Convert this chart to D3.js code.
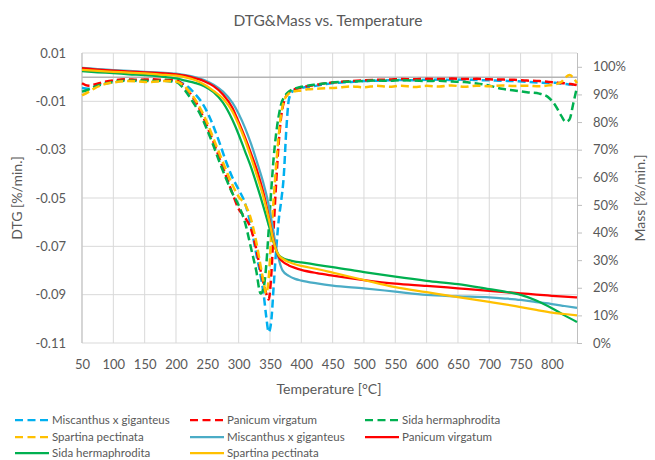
<!DOCTYPE html>
<html lang="en">
<head>
<meta charset="UTF-8">
<title>DTG&amp;Mass vs. Temperature</title>
<style>
  body { margin: 0; background: #fff; }
  text { font-family: Lato, "Open Sans", sans-serif; fill: #595959; }
</style>
</head>
<body>
<svg id="chart" width="655" height="460"></svg>
<script src="https://cdn.jsdelivr.net/npm/d3@7"></script>
<script>

// temperatures (°C) where the DTG curves were read
var dtgTemp = [50, 60, 70, 85, 100, 120, 140, 160, 180, 200,
  210, 220, 230, 240, 250, 260, 270, 280, 290, 300,
  310, 320, 328, 335, 340, 344, 348, 352, 356, 360,
  364, 368, 372, 376, 380, 385, 390, 400, 410, 425,
  440, 460, 480, 500, 520, 540, 560, 580, 600, 620,
  640, 660, 680, 700, 720, 740, 760, 780, 795, 805,
  815, 822, 828, 834, 840];

// DTG [%/min.]
var dtgMiscanthus = [-0.0045, -0.0048, -0.0038, -0.0024, -0.0016, -0.0012, -0.0016, -0.0012, -0.0015, -0.0017,
  -0.0025, -0.0042, -0.0068, -0.0100, -0.0145, -0.0205, -0.0275, -0.0350, -0.0415, -0.0465,
  -0.0520, -0.0620, -0.0730, -0.0820, -0.0900, -0.0990, -0.1055, -0.1010, -0.0860, -0.0710,
  -0.0590, -0.0510, -0.0410, -0.0220, -0.0095, -0.0062, -0.0052, -0.0045, -0.0040, -0.0035,
  -0.0028, -0.0023, -0.0020, -0.0016, -0.0015, -0.0013, -0.0012, -0.0013, -0.0011, -0.0010,
  -0.0012, -0.0010, -0.0012, -0.0013, -0.0015, -0.0016, -0.0019, -0.0022, -0.0024, -0.0023,
  -0.0027, -0.0028, -0.0030, -0.0031, -0.0035];
var dtgPanicum = [-0.0025, -0.0035, -0.0030, -0.0020, -0.0013, -0.0009, -0.0011, -0.0009, -0.0011, -0.0013,
  -0.0028, -0.0058, -0.0095, -0.0145, -0.0205, -0.0270, -0.0340, -0.0410, -0.0480, -0.0545,
  -0.0580, -0.0630, -0.0710, -0.0800, -0.0855, -0.0895, -0.0920, -0.0820, -0.0620, -0.0430,
  -0.0270, -0.0160, -0.0105, -0.0078, -0.0063, -0.0054, -0.0049, -0.0043, -0.0037, -0.0031,
  -0.0025, -0.0020, -0.0016, -0.0013, -0.0011, -0.0010, -0.0008, -0.0009, -0.0007, -0.0008,
  -0.0006, -0.0008, -0.0007, -0.0009, -0.0010, -0.0011, -0.0014, -0.0016, -0.0020, -0.0022,
  -0.0024, -0.0026, -0.0028, -0.0030, -0.0033];
var dtgSida = [-0.0060, -0.0052, -0.0040, -0.0028, -0.0020, -0.0015, -0.0014, -0.0016, -0.0015, -0.0020,
  -0.0040, -0.0075, -0.0115, -0.0160, -0.0220, -0.0285, -0.0355, -0.0420, -0.0480, -0.0530,
  -0.0600, -0.0710, -0.0800, -0.0895, -0.0870, -0.0780, -0.0630, -0.0470, -0.0330, -0.0230,
  -0.0160, -0.0110, -0.0085, -0.0070, -0.0060, -0.0052, -0.0047, -0.0040, -0.0035, -0.0030,
  -0.0025, -0.0020, -0.0018, -0.0016, -0.0014, -0.0015, -0.0013, -0.0014, -0.0016, -0.0015,
  -0.0018, -0.0020, -0.0026, -0.0035, -0.0048, -0.0055, -0.0062, -0.0068, -0.0085, -0.0115,
  -0.0160, -0.0185, -0.0175, -0.0110, -0.0040];
var dtgSpartina = [-0.0075, -0.0062, -0.0046, -0.0030, -0.0022, -0.0016, -0.0018, -0.0020, -0.0016, -0.0018,
  -0.0030, -0.0055, -0.0090, -0.0135, -0.0190, -0.0255, -0.0320, -0.0385, -0.0445, -0.0495,
  -0.0525, -0.0590, -0.0680, -0.0780, -0.0850, -0.0895, -0.0830, -0.0660, -0.0500, -0.0360,
  -0.0240, -0.0150, -0.0100, -0.0080, -0.0068, -0.0061, -0.0058, -0.0055, -0.0050, -0.0048,
  -0.0046, -0.0043, -0.0038, -0.0042, -0.0036, -0.0040, -0.0035, -0.0041, -0.0036, -0.0039,
  -0.0034, -0.0040, -0.0035, -0.0038, -0.0034, -0.0037, -0.0035, -0.0038, -0.0034, -0.0030,
  -0.0020, 0.0000, 0.0009, -0.0002, -0.0025];

// temperatures (°C) where the mass curves were read
var massTemp = [50, 75, 100, 125, 150, 175, 200, 215, 230, 245,
  260, 275, 290, 300, 310, 320, 330, 340, 345, 350,
  355, 360, 365, 370, 380, 390, 400, 425, 450, 500,
  550, 600, 650, 700, 725, 750, 775, 800, 820, 840];

// remaining mass [%]
var massMiscanthus = [99.6, 99.2, 98.8, 98.5, 98.2, 97.9, 97.5, 97.0, 96.3, 95.2,
  93.5, 91.0, 87.0, 83.0, 78.0, 72.0, 65.0, 57.5, 53.0, 47.5,
  41.0, 34.5, 29.5, 26.3, 24.3, 23.2, 22.6, 21.6, 20.8, 19.8,
  18.6, 17.4, 16.9, 16.5, 16.1, 15.6, 14.8, 14.1, 13.4, 12.7];
var massPanicum = [99.5, 99.0, 98.6, 98.3, 98.0, 97.7, 97.3, 96.8, 95.9, 94.8,
  93.0, 90.0, 85.2, 80.0, 74.5, 68.5, 62.0, 54.0, 49.0, 43.5,
  38.0, 33.5, 30.8, 29.5, 28.1, 27.2, 26.5, 25.3, 24.4, 22.8,
  21.5, 20.7, 19.8, 18.9, 18.4, 18.0, 17.5, 17.1, 16.8, 16.5];
var massSida = [98.4, 98.0, 97.7, 97.3, 97.0, 96.5, 95.8, 95.0, 94.2, 93.0,
  90.8, 87.0, 80.8, 75.5, 69.5, 63.5, 56.5, 49.0, 45.0, 41.0,
  37.0, 33.5, 31.6, 30.8, 30.0, 29.5, 29.2, 28.3, 27.5, 25.7,
  24.0, 22.5, 21.3, 19.5, 18.6, 17.4, 15.4, 12.6, 10.0, 7.6];
var massSpartina = [98.9, 98.5, 98.2, 97.9, 97.6, 97.2, 96.8, 96.2, 95.2, 93.6,
  91.3, 88.5, 83.8, 79.0, 73.5, 67.0, 60.0, 52.5, 48.0, 43.0,
  37.5, 33.5, 31.5, 30.5, 29.3, 28.5, 27.9, 26.8, 25.5, 22.8,
  20.2, 18.4, 16.6, 14.9, 14.0, 13.0, 12.0, 11.0, 10.5, 10.0];

var tempTicks = [50, 100, 150, 200, 250, 300, 350, 400, 450, 500, 550, 600, 650, 700, 750, 800];
var dtgTicks = [0.01, -0.01, -0.03, -0.05, -0.07, -0.09, -0.11];
var massTicks = [0, 10, 20, 30, 40, 50, 60, 70, 80, 90, 100];

var svg = d3.select("#chart"),
    plotLeft = 82, plotRight = 577, plotTop = 53, plotBottom = 343;

var x = d3.scaleLinear().domain([50, 840]).range([plotLeft, plotRight]),
    yDtg = d3.scaleLinear().domain([-0.11, 0.01]).range([plotBottom, plotTop]),
    yMass = d3.scaleLinear().domain([0, 105]).range([plotBottom, plotTop]);

// gridlines
svg.append("g").selectAll("line").data(dtgTicks).enter().append("line")
    .attr("x1", plotLeft).attr("x2", plotRight)
    .attr("y1", function (d) { return yDtg(d); }).attr("y2", function (d) { return yDtg(d); })
    .attr("stroke", "#d9d9d9").attr("stroke-width", 1);
svg.append("g").selectAll("line").data(tempTicks).enter().append("line")
    .attr("x1", function (d) { return x(d); }).attr("x2", function (d) { return x(d); })
    .attr("y1", plotTop).attr("y2", plotBottom)
    .attr("stroke", "#d9d9d9").attr("stroke-width", 1);

// axis lines (horizontal axis crosses at DTG = 0)
svg.append("line").attr("x1", plotLeft).attr("x2", plotRight)
    .attr("y1", yDtg(0)).attr("y2", yDtg(0))
    .attr("stroke", "#b4b4b4").attr("stroke-width", 1.5);
svg.append("line").attr("x1", plotLeft).attr("x2", plotLeft)
    .attr("y1", plotTop).attr("y2", plotBottom)
    .attr("stroke", "#bfbfbf").attr("stroke-width", 1);

// left axis labels
svg.append("g").attr("transform", "translate(" + plotLeft + ",0)")
    .call(d3.axisLeft(yDtg).tickValues(dtgTicks).tickSize(0).tickPadding(16)
        .tickFormat(function (d) { return d.toFixed(2); }))
    .call(function (g) { g.select(".domain").remove(); })
    .selectAll("text").style("font-size", "13px").attr("font-family", null);

// right axis
var ra = svg.append("g").attr("transform", "translate(" + plotRight + ",0)")
    .call(d3.axisRight(yMass).tickValues(massTicks).tickSize(5).tickPadding(11)
        .tickFormat(function (d) { return d + "%"; }));
ra.select(".domain").attr("stroke", "#bfbfbf").attr("d", "M0.5," + plotTop + "V" + plotBottom);
ra.selectAll(".tick line").attr("stroke", "#bfbfbf");
ra.selectAll("text").style("font-size", "13px").attr("font-family", null);

// bottom labels
svg.append("g").attr("transform", "translate(0," + plotBottom + ")")
    .call(d3.axisBottom(x).tickValues(tempTicks).tickSize(0).tickPadding(17))
    .call(function (g) { g.select(".domain").remove(); })
    .selectAll("text").style("font-size", "13px").attr("font-family", null);

// titles
svg.append("text").attr("x", 328).attr("y", 26).attr("text-anchor", "middle")
    .style("font-size", "15.5px").text("DTG&Mass vs. Temperature");
svg.append("text").attr("x", 329).attr("y", 394).attr("text-anchor", "middle")
    .style("font-size", "14px").text("Temperature [°C]");
svg.append("text").attr("transform", "translate(22," + (plotTop + plotBottom) / 2 + ") rotate(-90)")
    .attr("text-anchor", "middle").style("font-size", "14px").text("DTG [%/min.]");
svg.append("text").attr("transform", "translate(645," + (plotTop + plotBottom) / 2 + ") rotate(-90)")
    .attr("text-anchor", "middle").style("font-size", "14px").text("Mass [%/min.]");

var series = [
  { name: "Miscanthus x giganteus", t: dtgTemp, v: dtgMiscanthus, y: yDtg, color: "#00b0f0", dash: true },
  { name: "Panicum virgatum", t: dtgTemp, v: dtgPanicum, y: yDtg, color: "#ff0000", dash: true },
  { name: "Sida hermaphrodita", t: dtgTemp, v: dtgSida, y: yDtg, color: "#00b050", dash: true },
  { name: "Spartina pectinata", t: dtgTemp, v: dtgSpartina, y: yDtg, color: "#ffc000", dash: true },
  { name: "Miscanthus x giganteus", t: massTemp, v: massMiscanthus, y: yMass, color: "#4bacc6", dash: false },
  { name: "Panicum virgatum", t: massTemp, v: massPanicum, y: yMass, color: "#ff0000", dash: false },
  { name: "Sida hermaphrodita", t: massTemp, v: massSida, y: yMass, color: "#00b050", dash: false },
  { name: "Spartina pectinata", t: massTemp, v: massSpartina, y: yMass, color: "#ffc000", dash: false }
];

series.forEach(function (s) {
  var line = d3.line()
      .x(function (d) { return x(d[0]); })
      .y(function (d) { return s.y(d[1]); })
      .curve(d3.curveMonotoneX);
  svg.append("path")
      .datum(d3.zip(s.t, s.v))
      .attr("d", line)
      .attr("fill", "none")
      .attr("stroke", s.color)
      .attr("stroke-width", s.dash ? 2.5 : 2.25)
      .attr("stroke-dasharray", s.dash ? "8,4" : null)
      .attr("stroke-linejoin", "round");
});

// legend, three per row
var legendX = [15, 190, 365], legendY = [420, 437, 453];
var lg = svg.append("g").selectAll("g").data(series).enter().append("g")
    .attr("transform", function (d, i) {
      return "translate(" + legendX[i % 3] + "," + legendY[Math.floor(i / 3)] + ")";
    });
lg.append("line").attr("x1", 0).attr("x2", 34).attr("y1", 0).attr("y2", 0)
    .attr("stroke", function (d) { return d.color; })
    .attr("stroke-width", 2.25)
    .attr("stroke-dasharray", function (d) { return d.dash ? "8,4.5" : null; });
lg.append("text").attr("x", 37).attr("y", 0).attr("dy", "0.35em")
    .style("font-size", "11.5px").text(function (d) { return d.name; });

</script>
</body>
</html>
